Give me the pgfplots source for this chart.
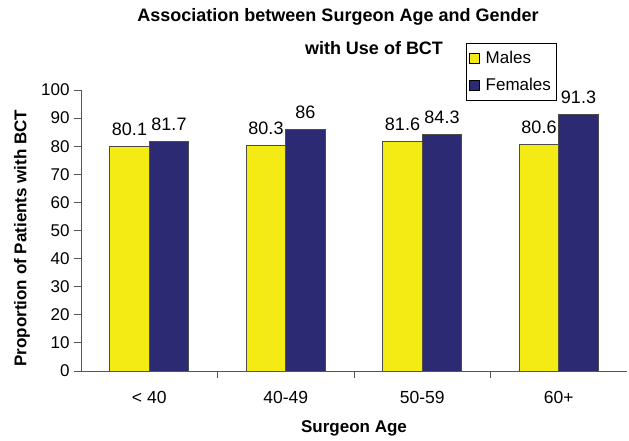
\documentclass[border=0pt]{standalone}
\usepackage{fontspec}
\setmainfont{Liberation Sans}
\usepackage{pgfplots}
\pgfplotsset{compat=1.18}
\definecolor{myyellow}{HTML}{F5EB14}
\definecolor{mynavy}{HTML}{2B2A72}
\definecolor{axgray}{HTML}{555555}
\begin{document}
\begin{tikzpicture}[x=1pt,y=1pt]
\useasboundingbox (0,0) rectangle (629,441);
\node[font=\fontsize{18}{20}\selectfont\bfseries] at (338,424) {Association between Surgeon Age and Gender};
\node[font=\fontsize{18}{20}\selectfont\bfseries] at (374,393) {with Use of BCT};
\begin{axis}[
  at={(81pt,70pt)}, anchor=south west,
  scale only axis, width=546pt, height=281pt,
  ymin=0, ymax=100, xmin=-0.5, xmax=3.5,
  ybar=0pt, bar width=39.5pt,
  axis x line*=bottom, axis y line*=left,
  axis line style={axgray, line width=0.8pt},
  /pgf/number format/assume math mode=true,
  ytick={0,10,...,100},
  yticklabel style={font=\fontsize{17}{19}\selectfont, xshift=-1pt},
  tick align=outside, major tick length=7pt,
  tick style={axgray, line width=0.8pt},
  xtick={0.5,1.5,2.5}, xticklabels={},
  extra x ticks={0,1,2,3},
  extra x tick labels={{< 40},{40-49},{50-59},{60+}},
  extra x tick style={major tick length=0pt, xticklabel style={font=\fontsize{17.5}{19}\selectfont, yshift=-17pt}},
  xlabel={Surgeon Age},
  xlabel style={font=\fontsize{17}{19}\selectfont\bfseries, at={(axis description cs:0.5,-0.203)}, anchor=center},
  ylabel={Proportion of Patients with BCT},
  ylabel style={font=\fontsize{17}{19}\selectfont\bfseries, at={(axis description cs:-0.108,0.473)}, anchor=center},
  nodes near coords,
  nodes near coords style={font=\fontsize{18}{20}\selectfont, black, yshift=7pt},
  legend style={at={(0.705,1.167)}, anchor=north west, draw=black, line width=0.6pt,
    font=\fontsize{17}{19}\selectfont, inner xsep=3pt, inner ysep=6pt, row sep=9pt,
    cells={anchor=west}, /tikz/every odd column/.append style={column sep=4pt}},
  legend image code/.code={\draw[#1, draw=black, line width=0.5pt] (0pt,-5pt) rectangle (10pt,5pt);},
]
\addplot[fill=myyellow, draw=black!70, line width=0.6pt] coordinates {(0,80.1) (1,80.3) (2,81.6) (3,80.6)};
\addplot[fill=mynavy, draw=black!70, line width=0.6pt] coordinates {(0,81.7) (1,86) (2,84.3) (3,91.3)};
\legend{Males,Females}
\end{axis}
\end{tikzpicture}
\end{document}
